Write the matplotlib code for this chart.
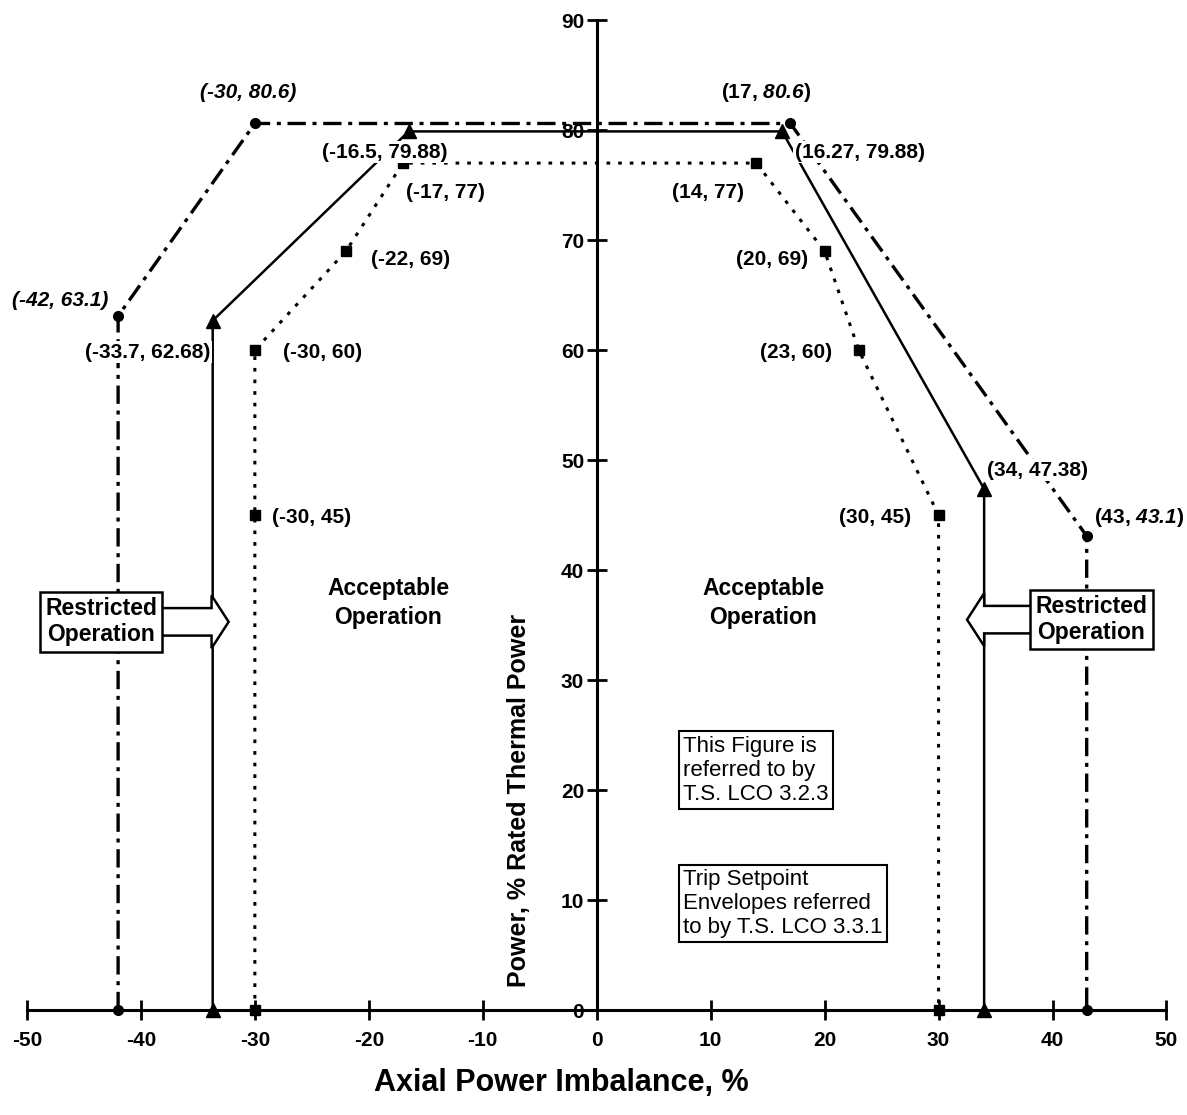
import matplotlib as mpl
import matplotlib.pyplot as plt
from matplotlib.patches import FancyArrow

mpl.rcParams["font.family"] = ["Liberation Sans", "DejaVu Sans"]
mpl.rcParams["font.weight"] = "bold"
mpl.rcParams["axes.unicode_minus"] = False
mpl.rcParams["mathtext.fontset"] = "custom"
mpl.rcParams["mathtext.rm"] = "Liberation Sans:bold"
# bf slot holds bold italic, used for the italic numbers in the labels
mpl.rcParams["mathtext.bf"] = "Liberation Sans:italic:bold"

# trip setpoint envelope (circles, dash-dot)
trip_x = [-42, -42, -30, 17, 43, 43]
trip_y = [0, 63.1, 80.6, 80.6, 43.1, 0]
trip_labels = [None, "(-42, 63.1)", "(-30, 80.6)",
               r"(17, $\mathbf{80.6}$)", r"(43, $\mathbf{43.1}$)", None]
trip_italic = [False, True, True, False, False, False]

# LCO envelope (triangles, solid)
lco_x = [-33.7, -33.7, -16.5, 16.27, 34, 34]
lco_y = [0, 62.68, 79.88, 79.88, 47.38, 0]
lco_labels = [None, "(-33.7, 62.68)", "(-16.5, 79.88)", "(16.27, 79.88)",
              "(34, 47.38)", None]

# operating envelope (squares, dotted)
op_x = [-30, -30, -30, -22, -17, 14, 20, 23, 30, 30]
op_y = [0, 45, 60, 69, 77, 77, 69, 60, 45, 0]
op_labels = [None, "(-30, 45)", "(-30, 60)", "(-22, 69)", "(-17, 77)",
             "(14, 77)", "(20, 69)", "(23, 60)", "(30, 45)", None]

# label anchor positions (data coords)
trip_pos = [None, (-47.1, 64.5), (-30.6, 83.4), (14.9, 83.4), (47.6, 44.8), None]
lco_pos = [None, (-39.4, 59.8), (-18.6, 78.0), (23.1, 78.0), (38.7, 49.1), None]
op_pos = [None, (-25.0, 44.8), (-24.1, 59.8), (-16.3, 68.2), (-13.3, 74.3),
          (9.8, 74.3), (15.4, 68.2), (17.5, 59.8), (24.4, 44.8), None]

fig = plt.figure(figsize=(11.87, 11.15), dpi=100)
ax = fig.add_axes([0.0227, 0.094, 0.960, 0.888])
ax.set_xlim(-50, 50)
ax.set_ylim(0, 90)

ax.plot(trip_x, trip_y, color="k", lw=2.4, ls=(0, (5.5, 2, 1.2, 2)),
        marker="o", ms=7, zorder=3, clip_on=False)
ax.plot(lco_x, lco_y, color="k", lw=1.8, ls="-",
        marker="^", ms=10, zorder=3, clip_on=False)
ax.plot(op_x, op_y, color="k", lw=2.2, ls=(0, (1.2, 2.6)),
        marker="s", ms=7, zorder=3, clip_on=False)

box = dict(facecolor="white", edgecolor="none", pad=1)
for lab, p, it in zip(trip_labels, trip_pos, trip_italic):
    if lab is None:
        continue
    ax.text(p[0], p[1], lab, fontsize=15, ha="center", va="center",
            fontstyle="italic" if it else "normal", bbox=box, zorder=4)
for labels, pos in [(lco_labels, lco_pos), (op_labels, op_pos)]:
    for lab, p in zip(labels, pos):
        if lab is None:
            continue
        ax.text(p[0], p[1], lab, fontsize=15, ha="center", va="center",
                bbox=box, zorder=4)

# spines through the origin
for side in ["top", "right"]:
    ax.spines[side].set_visible(False)
ax.spines["left"].set_position(("data", 0))
ax.spines["bottom"].set_position(("data", 0))
ax.spines["left"].set_linewidth(2.2)
ax.spines["bottom"].set_linewidth(2.2)
ax.spines["left"].set_zorder(2)
ax.spines["bottom"].set_zorder(2)

ax.set_xticks(range(-50, 51, 10))
ax.set_yticks(range(0, 91, 10))
ax.tick_params(axis="x", direction="inout", length=14, width=2, pad=8,
               labelsize=15)
ax.tick_params(axis="y", direction="inout", length=14, width=2, pad=2,
               labelsize=15)

ax.text(-6.8, 19.1, "Power, % Rated Thermal Power", rotation=90,
        fontsize=18, ha="center", va="center")
fig.text(0.473, 0.029, "Axial Power Imbalance, %", fontsize=22,
         ha="center", va="center")

# region notes
for x in [-18.3, 14.6]:
    ax.text(x, 37.0, "Acceptable\nOperation", fontsize=16.5, ha="center",
            va="center", linespacing=1.3)

rbox = dict(facecolor="white", edgecolor="k", lw=1.8, pad=4)
ax.text(-43.5, 35.3, "Restricted\nOperation", fontsize=16.5, ha="center",
        va="center", linespacing=1.15, bbox=rbox, zorder=6)
ax.text(43.4, 35.5, "Restricted\nOperation", fontsize=16.5, ha="center",
        va="center", linespacing=1.15, bbox=rbox, zorder=6)

ax.add_patch(FancyArrow(-38.2, 35.3, 5.9, 0, width=2.5, head_width=4.8,
                        head_length=1.5, length_includes_head=True,
                        facecolor="white", edgecolor="k", lw=1.8, zorder=5))
ax.add_patch(FancyArrow(38.2, 35.5, -5.7, 0, width=2.5, head_width=4.8,
                        head_length=1.5, length_includes_head=True,
                        facecolor="white", edgecolor="k", lw=1.8, zorder=5))

nbox = dict(facecolor="white", edgecolor="k", lw=1.5, pad=3)
ax.text(7.6, 21.8, "This Figure is\nreferred to by\nT.S. LCO 3.2.3",
        fontsize=16, fontweight="normal", ha="left", va="center",
        linespacing=1.2, bbox=nbox, zorder=6)
ax.text(7.6, 9.7, "Trip Setpoint\nEnvelopes referred\nto by T.S. LCO 3.3.1",
        fontsize=16, fontweight="normal", ha="left", va="center",
        linespacing=1.2, bbox=nbox, zorder=6)

fig.savefig("out.png", dpi=100)
